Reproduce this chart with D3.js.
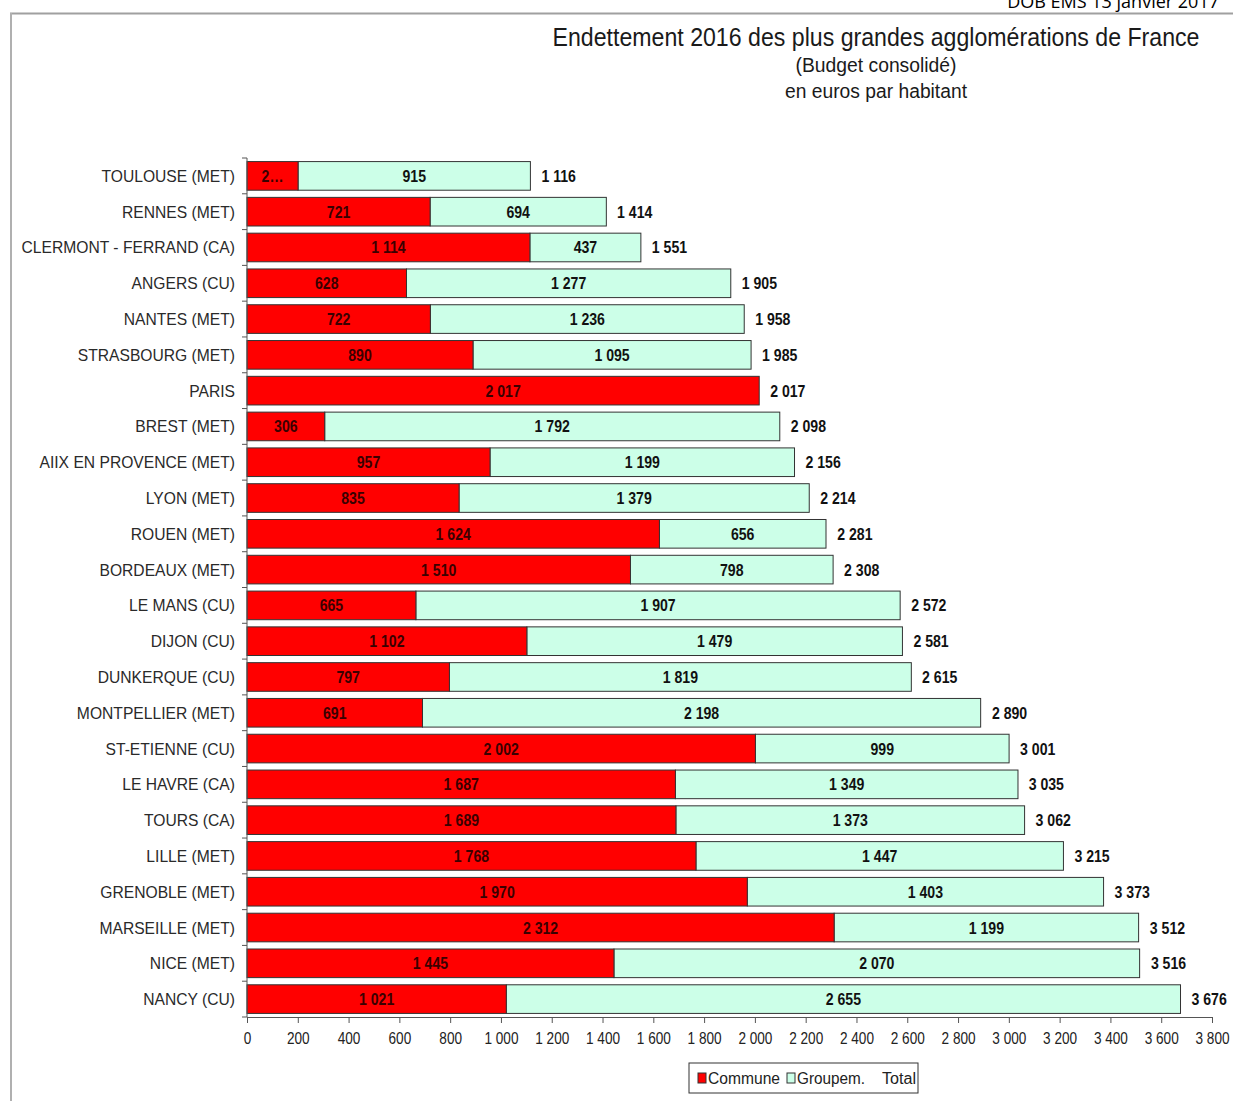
<!DOCTYPE html>
<html><head><meta charset="utf-8">
<script src="https://cdn.jsdelivr.net/npm/d3@7"></script>
<style>
html,body{margin:0;padding:0;background:#fff;}
svg{display:block;}
text{font-family:"Liberation Sans",Arial,sans-serif;}
</style></head>
<body>
<script>
const categories = ["TOULOUSE (MET)","RENNES (MET)","CLERMONT - FERRAND (CA)","ANGERS (CU)","NANTES (MET)","STRASBOURG (MET)","PARIS","BREST (MET)","AIIX EN PROVENCE (MET)","LYON (MET)","ROUEN (MET)","BORDEAUX (MET)","LE MANS (CU)","DIJON (CU)","DUNKERQUE (CU)","MONTPELLIER (MET)","ST-ETIENNE (CU)","LE HAVRE (CA)","TOURS (CA)","LILLE (MET)","GRENOBLE (MET)","MARSEILLE (MET)","NICE (MET)","NANCY (CU)"];
const commune = [201,721,1114,628,722,890,2017,306,957,835,1624,1510,665,1102,797,691,2002,1687,1689,1768,1970,2312,1445,1021];
const groupem  = [915,694,437,1277,1236,1095,0,1792,1199,1379,656,798,1907,1479,1819,2198,999,1349,1373,1447,1403,1199,2070,2655];
const totals   = [1116,1414,1551,1905,1958,1985,2017,2098,2156,2214,2281,2308,2572,2581,2615,2890,3001,3035,3062,3215,3373,3512,3516,3676];
const xTicks = [0,200,400,600,800,1000,1200,1400,1600,1800,2000,2200,2400,2600,2800,3000,3200,3400,3600,3800];
const seriesNames = ["Commune","Groupem.","Total"];
const titleLines = ["Endettement 2016 des plus grandes agglomérations de France","(Budget consolidé)","en euros par habitant"];
const headerText = "DOB EMS 13  janvier 2017";

const W = 1233, H = 1101;
const fr = d3.formatLocale({decimal:",",thousands:" ",grouping:[3],currency:["","€"]});
const fmt = fr.format(",d");

function condense(sel, f){
  sel.each(function(){
    const w = this.getComputedTextLength();
    if (w>0) d3.select(this).attr("textLength", w*f).attr("lengthAdjust","spacingAndGlyphs");
  });
}
function fitTo(sel, w){ sel.attr("textLength", w).attr("lengthAdjust","spacingAndGlyphs"); }

const svg = d3.select("body").append("svg").attr("width",W).attr("height",H);

// page frame
svg.append("line").attr("x1",10).attr("x2",W).attr("y1",13.5).attr("y2",13.5).attr("stroke","#a0a0a0").attr("stroke-width",2);
svg.append("line").attr("x1",11).attr("x2",11).attr("y1",13).attr("y2",H).attr("stroke","#b0b0b0").attr("stroke-width",2);
svg.append("text").attr("x",1219).attr("y",8).attr("text-anchor","end")
  .style("font-family","'Open Sans',sans-serif").style("font-size","18px").attr("fill","#000").text(headerText);

// titles
svg.append("text").attr("x",876).attr("y",46).attr("text-anchor","middle").style("font-size","26px").attr("fill","#1a1a1a").text(titleLines[0]).call(fitTo,647);
svg.append("text").attr("x",876).attr("y",72).attr("text-anchor","middle").style("font-size","20px").attr("fill","#1a1a1a").text(titleLines[1]).call(fitTo,161);
svg.append("text").attr("x",876).attr("y",98).attr("text-anchor","middle").style("font-size","20px").attr("fill","#1a1a1a").text(titleLines[2]).call(fitTo,182);

const x = d3.scaleLinear().domain([0,3800]).range([247,1212]);
const y = d3.scaleBand().domain(categories).range([158,1017]).paddingInner(0.2).paddingOuter(0.1);

const data = categories.map((c,i)=>({c, a:commune[i], b:groupem[i], t:totals[i]}));

const g = svg.append("g");
g.selectAll("rect.g").data(data.filter(d=>d.b>0)).join("rect")
  .attr("x",d=>x(d.a)).attr("width",d=>x(d.a+d.b)-x(d.a))
  .attr("y",d=>y(d.c)).attr("height",y.bandwidth())
  .attr("fill","#ccffe8").attr("stroke","#333").attr("stroke-width",1);
g.selectAll("rect.c").data(data).join("rect")
  .attr("x",x(0)).attr("width",d=>x(d.a)-x(0))
  .attr("y",d=>y(d.c)).attr("height",y.bandwidth())
  .attr("fill","#ff0000").attr("stroke","#333").attr("stroke-width",1);

// labels
const lblStyle = sel => sel.style("font-size","16px").style("font-weight","bold").attr("fill","#111");
g.selectAll("text.c").data(data).join("text")
  .attr("x",d=>(x(0)+x(d.a))/2).attr("y",d=>y(d.c)+y.bandwidth()/2+6)
  .attr("text-anchor","middle").call(lblStyle).attr("fill","#3a0000")
  .text(d=>fmt(d.a))
  .each(function(d){
    const avail = x(d.a)-x(0)-30;
    if(this.getComputedTextLength()*0.88>avail){
      let s = fmt(d.a);
      while(s.length>1){ s=s.slice(0,-1); this.textContent=s+"…"; if(this.getComputedTextLength()*0.88<=avail) break; }
    }
  }).call(condense,0.88);
g.selectAll("text.b").data(data.filter(d=>d.b>0)).join("text")
  .attr("x",d=>(x(d.a)+x(d.a+d.b))/2).attr("y",d=>y(d.c)+y.bandwidth()/2+6)
  .attr("text-anchor","middle").call(lblStyle).text(d=>fmt(d.b)).call(condense,0.88);
g.selectAll("text.t").data(data).join("text")
  .attr("x",d=>x(d.t)+11).attr("y",d=>y(d.c)+y.bandwidth()/2+6)
  .attr("text-anchor","start").call(lblStyle).text(d=>fmt(d.t)).call(condense,0.88);

// y axis
const yAxisG = svg.append("g").attr("transform","translate(247,0)");
yAxisG.append("line").attr("x1",0).attr("x2",0).attr("y1",158).attr("y2",1017).attr("stroke","#555");
const bounds = d3.range(categories.length+1).map(i=>158 + i*(1017-158)/categories.length);
yAxisG.selectAll("line.t").data(bounds).join("line").attr("x1",-5).attr("x2",0).attr("y1",d=>d).attr("y2",d=>d).attr("stroke","#555");
yAxisG.selectAll("text").data(categories).join("text")
  .attr("x",-12).attr("y",d=>y(d)+y.bandwidth()/2+6).attr("text-anchor","end")
  .style("font-size","17px").attr("fill","#2a2a2a").text(d=>d).call(condense,0.92);

// x axis
const xAxis = d3.axisBottom(x).tickValues(xTicks).tickFormat(d=>fmt(d)).tickSize(6).tickSizeOuter(0);
const xg = svg.append("g").attr("transform","translate(0,1017)").call(xAxis);
xg.select(".domain").attr("stroke","#555");
xg.selectAll(".tick line").attr("stroke","#555");
xg.selectAll(".tick text").attr("dy",0).attr("y",27).style("font-size","16px").attr("fill","#222")
  .style("font-family","'Liberation Sans',Arial,sans-serif").call(condense,0.85);

// legend
const lg = svg.append("g").attr("transform","translate(689,1063)");
lg.append("rect").attr("x",0).attr("y",0).attr("width",229).attr("height",30).attr("fill","#fff").attr("stroke","#333");
lg.append("rect").attr("x",9).attr("y",10).attr("width",8).attr("height",10).attr("fill","#ff0000").attr("stroke","#333");
lg.append("text").attr("x",19).attr("y",21).style("font-size","16px").attr("fill","#222").text(seriesNames[0]).call(fitTo,72);
lg.append("rect").attr("x",98).attr("y",10).attr("width",8).attr("height",10).attr("fill","#ccffe8").attr("stroke","#333");
lg.append("text").attr("x",108).attr("y",21).style("font-size","16px").attr("fill","#222").text(seriesNames[1]).call(fitTo,68);
lg.append("text").attr("x",193).attr("y",21).style("font-size","16px").attr("fill","#222").text(seriesNames[2]).call(fitTo,34);
</script>
</body></html>
